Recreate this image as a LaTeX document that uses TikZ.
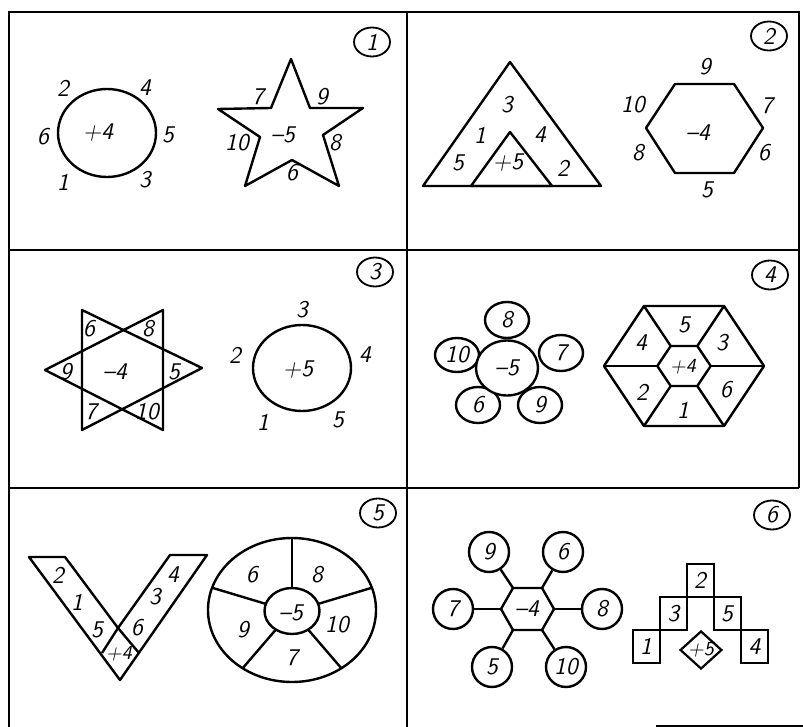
\documentclass[tikz,border=0pt]{standalone}
\usetikzlibrary{shapes.geometric}

\newcommand\numfont{\fontsize{12}{14}\sffamily\slshape\selectfont}
\newcommand\smallnumfont{\fontsize{10}{12}\sffamily\slshape\selectfont}

\begin{document}
\begin{tikzpicture}[x=0.5pt,y=-0.5pt,
    frame/.style={line width=0.9pt},
    figline/.style={line width=1.2pt, line join=round},
    num/.style={font=\numfont, inner sep=0pt},
    tag/.style={draw, ellipse, line width=0.9pt, minimum width=18pt, minimum height=14.5pt, inner sep=0pt, font=\numfont},
    petal/.style={draw, ellipse, fill=white, line width=1.2pt, minimum width=22pt, minimum height=18pt, inner sep=0pt, font=\numfont},
    sat/.style={draw, circle, line width=1.2pt, minimum size=20pt, inner sep=0pt, font=\numfont},
    cell/.style={draw, line width=1pt, minimum width=13.5pt, minimum height=16.5pt, inner sep=0pt, font=\numfont}]
    \useasboundingbox (0,0) rectangle (803,727);

    % Grid
    \draw[frame] (9,727) -- (9,12) -- (799,12) -- (799,488);
    \draw[frame] (407,12) -- (407,727);
    \draw[frame] (9,250) -- (799,250);
    \draw[frame] (9,488) -- (799,488);
    \draw[frame] (656,726) -- (803,726);

    % Panel 1: ellipse and star
    \node[tag] (tag1) at (372,42) {1};
    \draw[figline] (107,133) ellipse [x radius=24.5pt, y radius=22pt];
    \foreach \n/\t/\x/\y in {a/2/63/88, b/4/145/88, c/6/43/137, d/+4/98/133,
        e/5/168/135, f/1/63/182, g/3/145/180}
        \node[num] (p1\n) at (\x,\y) {\t};
    \draw[figline] (291,59) -- (310,108) -- (363,108) -- (323,135) -- (339,186)
        -- (292,160) -- (245,186) -- (260,137) -- (218,109) -- (271,108) -- cycle;
    \foreach \n/\t/\x/\y in {h/7/258/97, i/9/322/97, j/--5/283/135, k/10/237/143,
        l/8/335/143, m/6/292/173}
        \node[num] (p1\n) at (\x,\y) {\t};

    % Panel 2: triangles and hexagon
    \node[tag] (tag2) at (769,36) {2};
    \draw[figline] (510,62) -- (601,186) -- (423,186) -- cycle;
    \draw[figline] (510,132) -- (552,186) -- (471,186) -- cycle;
    \foreach \n/\t/\x/\y in {a/3/507/105, b/1/480/135, c/4/540/135, d/5/458/163,
        e/+5/508/163, f/2/563/168}
        \node[num] (p2\n) at (\x,\y) {\t};
    \draw[figline] (675,84) -- (734,84) -- (763,128) -- (734,173) -- (675,173) -- (646,128) -- cycle;
    \foreach \n/\t/\x/\y in {g/9/705/67, h/10/633/105, i/7/767/106, j/--4/698/133,
        k/8/638/153, l/6/764/153, m/5/707/190}
        \node[num] (p2\n) at (\x,\y) {\t};

    % Panel 3: hexagram and circle
    \node[tag] (tag3) at (375,272) {3};
    \draw[figline] (82,310) -- (82,430) -- (202,368) -- cycle;
    \draw[figline] (163,310) -- (163,430) -- (45,370) -- cycle;
    \foreach \n/\t/\x/\y in {a/6/89/329, b/8/148/329, c/9/66/372, d/--4/115/372,
        e/5/174/372, f/7/91/412, g/10/147/412}
        \node[num] (p3\n) at (\x,\y) {\t};
    \draw[figline] (302,368) ellipse [x radius=24.5pt, y radius=21.5pt];
    \foreach \n/\t/\x/\y in {h/3/302/310, i/2/235/355, j/4/365/355, k/+5/298/370,
        l/1/263/422, m/5/338/420}
        \node[num] (p3\n) at (\x,\y) {\t};

    % Panel 4: flower and split hexagon
    \node[tag] (tag4) at (770,275) {4};
    \node[petal] (f8) at (507,320) {8};
    \node[petal, minimum height=17pt] (f10) at (457,355) {10};
    \node[petal] (f7) at (561,353) {7};
    \node[petal] (f6) at (478,405) {6};
    \node[petal] (f9) at (540,405) {9};
    \node[petal, minimum width=31pt, minimum height=27.5pt] (f0) at (507,368) {--5};
    \foreach \i/\x/\y in {1/644/306, 2/724/306, 3/764/366, 4/724/426, 5/644/426, 6/604/366}
        \coordinate (o\i) at (\x,\y);
    \foreach \i/\x/\y in {1/670.7/346, 2/697.3/346, 3/710.7/366, 4/697.3/386, 5/670.7/386, 6/657.3/366}
        \coordinate (i\i) at (\x,\y);
    \draw[figline] (o1) -- (o2) -- (o3) -- (o4) -- (o5) -- (o6) -- cycle;
    \draw[figline] (i1) -- (i2) -- (i3) -- (i4) -- (i5) -- (i6) -- cycle;
    \foreach \i in {1,...,6}
        \draw[figline] (i\i) -- (o\i);
    \foreach \n/\t/\x/\y in {a/5/684/325, b/4/641/343, c/3/722/343, e/2/642/392,
        f/6/726/390, g/1/683/410}
        \node[num] (p4\n) at (\x,\y) {\t};
    \node[num, font=\smallnumfont] (p4d) at (683,367) {+4};

    % Panel 5: V and wheel
    \node[tag] (tag5) at (378,513) {5};
    \draw[figline] (29,557) -- (65,557) -- (118,628) -- (170,555) -- (207,555)
        -- (120,680) -- cycle;
    \draw[figline] (102,653) -- (118,628) -- (139,653);
    \foreach \n/\t/\x/\y in {a/2/58/575, b/1/77/602, c/5/97/630,
        e/4/173/575, f/3/155/597, g/6/137/628}
        \node[num] (p5\n) at (\x,\y) {\t};
    \node[num, font=\smallnumfont] (p5d) at (119,654) {+4};
    \draw[figline] (292,610) ellipse [x radius=42pt, y radius=36pt];
    \draw[figline] (292,611) ellipse [x radius=13.75pt, y radius=11.5pt];
    \foreach \a in {90,18,162,234,306}
        \draw[figline] ({292+27.5*cos(\a)},{611-23*sin(\a)}) -- ({292+84*cos(\a)},{610-72*sin(\a)});
    \foreach \n/\t/\x/\y in {h/6/252/575, i/8/317/575, j/--5/291/613, k/9/243/630,
        l/10/337/625, m/7/292/658}
        \node[num] (p5\n) at (\x,\y) {\t};

    % Panel 6: hub with satellites, steps
    \node[tag] (tag6) at (772,515) {6};
    \foreach \i/\x/\y in {1/513/588, 2/542/588, 3/554/609, 4/542/630, 5/513/630, 6/501/609}
        \coordinate (h\i) at (\x,\y);
    \draw[figline] (h1) -- (h2) -- (h3) -- (h4) -- (h5) -- (h6) -- cycle;
    \node[num] (hub) at (527,609) {--4};
    \node[sat] (s9) at (489,552) {9};
    \node[sat] (s6) at (563,552) {6};
    \node[sat] (s7) at (453,609) {7};
    \node[sat] (s8) at (602,609) {8};
    \node[sat] (s5) at (492,667) {5};
    \node[sat] (s10) at (566,667) {10};
    \draw[figline] (h1) -- (s9);
    \draw[figline] (h2) -- (s6);
    \draw[figline] (h6) -- (s7);
    \draw[figline] (h3) -- (s8);
    \draw[figline] (h5) -- (s5);
    \draw[figline] (h4) -- (s10);
    \node[cell] (c2) at (700,580) {2};
    \node[cell] (c3) at (673.5,613.5) {3};
    \node[cell] (c5) at (727,613.5) {5};
    \node[cell] (c1) at (646,646.5) {1};
    \node[cell] (c4) at (754.5,646.5) {4};
    \node[draw, diamond, line width=1.1pt, aspect=1.1, inner sep=0pt, minimum width=19pt,
        font=\smallnumfont] (dia) at (701,650) {+5};

\end{tikzpicture}
\end{document}
